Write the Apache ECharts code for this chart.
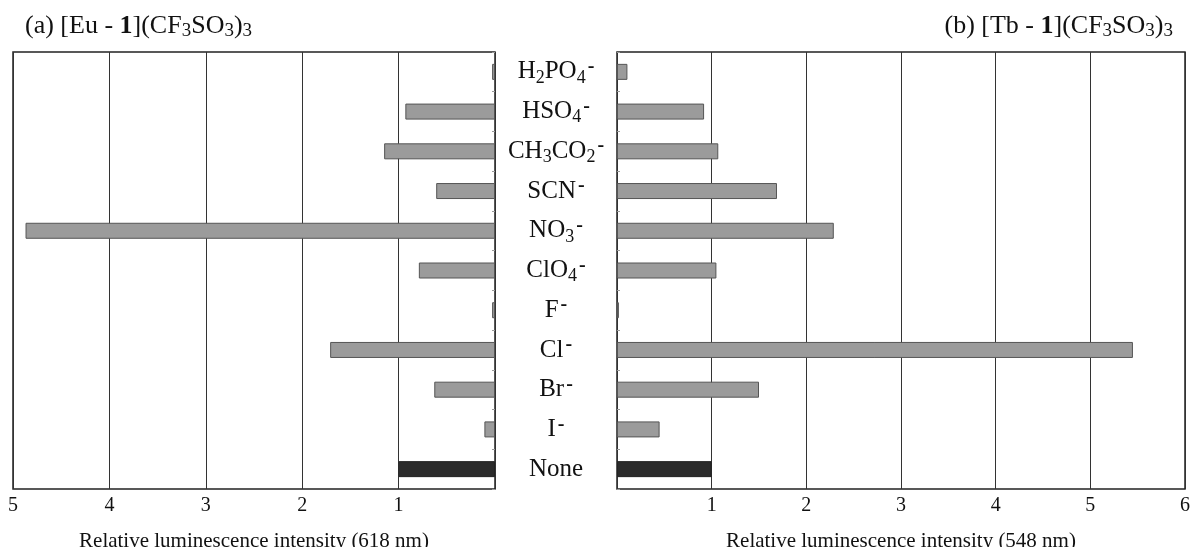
<!DOCTYPE html>
<html>
<head>
<meta charset="utf-8">
<script src="https://cdn.jsdelivr.net/npm/echarts@6/dist/echarts.min.js"></script>
<style>
html, body { margin: 0; padding: 0; background: #fff; }
#main { width: 1190px; height: 547px; }
</style>
</head>
<body>
<div id="main"></div>
<script>
// anions, top to bottom (rich-text labels)
var categories = [
    "H{sub|2}PO{sub|4}{sup|-}",
    "HSO{sub|4}{sup|-}",
    "CH{sub|3}CO{sub|2}{sup|-}",
    "SCN{sup|-}",
    "NO{sub|3}{sup|-}",
    "ClO{sub|4}{sup|-}",
    "F{sup|-}",
    "Cl{sup|-}",
    "Br{sup|-}",
    "I{sup|-}",
    "None",
];
// relative luminescence intensity, Eu complex (618 nm)
var euValues = [0.03, 0.93, 1.15, 0.61, 4.87, 0.79, 0.03, 1.71, 0.63, 0.11, 1.0];
// relative luminescence intensity, Tb complex (548 nm)
var tbValues = [0.11, 0.92, 1.07, 1.69, 2.29, 1.05, 0.02, 5.45, 1.5, 0.45, 1.0];

var FONT = "Liberation Serif";
var labelRich = {
    sub: { fontSize: 18, fontFamily: FONT, color: "#111", verticalAlign: "bottom", lineHeight: 12 },
    sup: { fontSize: 20, fontFamily: FONT, color: "#111", fontWeight: "bold", verticalAlign: "top", lineHeight: 8, padding: [0, 0, 0, 2] },
};
var titleRich = {
    sub: { fontSize: 19, fontFamily: FONT, color: "#111", verticalAlign: "bottom", lineHeight: 12 },
    b: { fontSize: 26, fontFamily: FONT, color: "#111", fontWeight: "bold" },
};

function makeData(values) {
    return values.map(function (v, i) {
        var isNone = categories[i] === "None";
        return {
            value: v,
            itemStyle: {
                color: isNone ? "#2b2b2b" : "#9b9b9b",
                borderColor: isNone ? "#222" : "#555",
                borderWidth: 1,
            },
        };
    });
}

function valueAxis(grid, inverse, max, name) {
    return {
        gridIndex: grid,
        type: "value",
        inverse: inverse,
        min: 0,
        max: max,
        interval: 1,
        axisLine: { show: false },
        axisTick: { show: false },
        splitLine: { show: true, lineStyle: { color: "#333", width: 1 } },
        axisLabel: {
            fontSize: 20,
            fontFamily: FONT,
            color: "#111",
            margin: 7,
            formatter: function (v) { return v === 0 ? "" : v; },
        },
        name: name,
        nameLocation: "middle",
        nameGap: 42,
        nameTextStyle: { fontSize: 21, fontFamily: FONT, color: "#111" },
    };
}

var myChart = echarts.init(document.getElementById("main"));
var option = {
    backgroundColor: "#fff",
    animation: false,
    textStyle: { fontFamily: FONT, color: "#111" },
    title: [
        {
            text: "(a) [Eu - {b|1}](CF{sub|3}SO{sub|3}){sub|3}",
            left: 20,
            top: 6,
            textStyle: { fontSize: 26, fontWeight: "normal", fontFamily: FONT, color: "#111", lineHeight: 30, rich: titleRich },
        },
        {
            text: "(b) [Tb - {b|1}](CF{sub|3}SO{sub|3}){sub|3}",
            right: 12,
            top: 6,
            textStyle: { fontSize: 26, fontWeight: "normal", fontFamily: FONT, color: "#111", lineHeight: 30, rich: titleRich },
        },
    ],
    grid: [
        { left: 13, right: 695, top: 52, bottom: 58, outerBoundsMode: "none", containLabel: false, show: true, borderColor: "#222", borderWidth: 1.5, backgroundColor: "#fff" },
        { left: 617, right: 5, top: 52, bottom: 58, outerBoundsMode: "none", containLabel: false, show: true, borderColor: "#222", borderWidth: 1.5, backgroundColor: "#fff" },
    ],
    xAxis: [
        valueAxis(0, true, 5, "Relative luminescence intensity (618 nm)"),
        valueAxis(1, false, 6, "Relative luminescence intensity (548 nm)"),
    ],
    yAxis: [
        {
            gridIndex: 0,
            type: "category",
            data: categories,
            inverse: true,
            position: "right",
            axisLine: { show: false },
            axisTick: { show: true, inside: true, length: 3, lineStyle: { color: "#999" } },
            axisLabel: {
                align: "center",
                margin: 61,
                fontSize: 25,
                fontFamily: FONT,
                color: "#111",
                lineHeight: 30,
                rich: labelRich,
            },
        },
        {
            gridIndex: 1,
            type: "category",
            data: categories,
            inverse: true,
            position: "left",
            axisLine: { show: false },
            axisTick: { show: true, inside: true, length: 3, lineStyle: { color: "#999" } },
            axisLabel: { show: false },
        },
    ],
    series: [
        {
            type: "bar",
            xAxisIndex: 0,
            yAxisIndex: 0,
            barWidth: 16,
            data: makeData(euValues),
        },
        {
            type: "bar",
            xAxisIndex: 1,
            yAxisIndex: 1,
            barWidth: 16,
            data: makeData(tbValues),
        },
    ],
};
myChart.setOption(option);
</script>
</body>
</html>
